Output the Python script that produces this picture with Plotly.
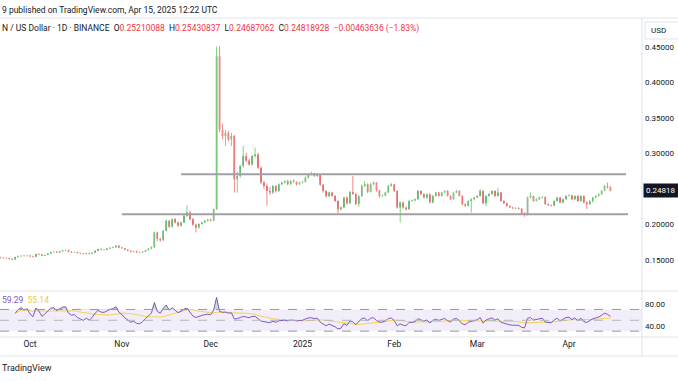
import pandas as pd
import plotly.graph_objects as go

# ---------------- data ----------------
start_date = "2024-09-21"
first_open = 0.1540

close = [
    # Sep 21-30
    0.1535, 0.1530, 0.1528, 0.1518, 0.1512, 0.1545, 0.1556, 0.1564, 0.1560, 0.1565,
    # Oct
    0.1556, 0.1550, 0.1588, 0.1580, 0.1564, 0.1575, 0.1595, 0.1615, 0.1620, 0.1610,
    0.1625, 0.1640, 0.1644, 0.1620, 0.1611, 0.1615, 0.1602, 0.1595, 0.1588, 0.1600,
    0.1590, 0.1605, 0.1634, 0.1658, 0.1650, 0.1649, 0.1665, 0.1675, 0.1682, 0.1704, 0.1680,
    # Nov
    0.1668, 0.1649, 0.1634, 0.1620, 0.1625, 0.1611, 0.1608, 0.1620, 0.1640, 0.1660,
    0.1682, 0.1891, 0.1800, 0.1780, 0.1914, 0.2054, 0.1970, 0.2077, 0.2031, 0.1984,
    0.2031, 0.2124, 0.2171, 0.2077, 0.2000, 0.1961, 0.2008, 0.2031, 0.2054, 0.2070,
    # Dec
    0.2060, 0.2217, 0.4365, 0.3338, 0.3245, 0.3291, 0.3198, 0.3245, 0.2638, 0.2684,
    0.2824, 0.2964, 0.2900, 0.2847, 0.2964, 0.2987, 0.2800, 0.2591, 0.2544, 0.2474,
    0.2451, 0.2544, 0.2474, 0.2568, 0.2591, 0.2614, 0.2568, 0.2614, 0.2600, 0.2568, 0.2591,
    # Jan
    0.2600, 0.2661, 0.2707, 0.2715, 0.2685, 0.2700, 0.2560, 0.2474, 0.2400, 0.2451,
    0.2404, 0.2334, 0.2218, 0.2241, 0.2381, 0.2300, 0.2460, 0.2430, 0.2290, 0.2400,
    0.2545, 0.2568, 0.2460, 0.2568, 0.2591, 0.2480, 0.2404, 0.2410, 0.2451, 0.2545, 0.2568,
    # Feb
    0.2474, 0.2241, 0.2311, 0.2241, 0.2218, 0.2334, 0.2340, 0.2358, 0.2474, 0.2428,
    0.2381, 0.2428, 0.2311, 0.2404, 0.2451, 0.2404, 0.2451, 0.2474, 0.2404, 0.2358,
    0.2451, 0.2474, 0.2404, 0.2288, 0.2264, 0.2334, 0.2358, 0.2381,
    # Mar
    0.2404, 0.2474, 0.2300, 0.2404, 0.2430, 0.2474, 0.2404, 0.2451, 0.2334, 0.2300,
    0.2264, 0.2241, 0.2230, 0.2235, 0.2225, 0.2160, 0.2140, 0.2381, 0.2404, 0.2334,
    0.2358, 0.2381, 0.2390, 0.2288, 0.2273, 0.2265, 0.2334, 0.2381, 0.2311, 0.2358, 0.2404,
    # Apr 1-15
    0.2410, 0.2358, 0.2404, 0.2334, 0.2404, 0.2311, 0.2288, 0.2334, 0.2381, 0.2404,
    0.2428, 0.2475, 0.2545, 0.25210088, 0.24818928,
]

high = [
    0.1550, 0.1545, 0.1542, 0.1535, 0.1528, 0.1552, 0.1565, 0.1570, 0.1572, 0.1575,
    0.1578, 0.1565, 0.1595, 0.1598, 0.1588, 0.1582, 0.1605, 0.1622, 0.1630, 0.1628,
    0.1632, 0.1648, 0.1652, 0.1650, 0.1628, 0.1622, 0.1620, 0.1610, 0.1600, 0.1606,
    0.1608, 0.1612, 0.1642, 0.1665, 0.1668, 0.1658, 0.1672, 0.1682, 0.1692, 0.1712, 0.1710,
    0.1688, 0.1672, 0.1655, 0.1640, 0.1632, 0.1635, 0.1620, 0.1626, 0.1646, 0.1672,
    0.1695, 0.1905, 0.1900, 0.1815, 0.1925, 0.2070, 0.2065, 0.2090, 0.2095, 0.2045,
    0.2040, 0.2140, 0.2274, 0.2200, 0.2095, 0.2015, 0.2020, 0.2042, 0.2065, 0.2080,
    0.2085, 0.2230, 0.4505, 0.4510, 0.3420, 0.3330, 0.3320, 0.3290, 0.3260, 0.2750,
    0.2840, 0.3105, 0.3010, 0.2930, 0.2980, 0.3081, 0.3010, 0.2820, 0.2620, 0.2580,
    0.2530, 0.2560, 0.2560, 0.2580, 0.2605, 0.2625, 0.2630, 0.2625, 0.2640, 0.2612, 0.2605,
    0.2612, 0.2680, 0.2720, 0.2745, 0.2725, 0.2715, 0.2712, 0.2575, 0.2485, 0.2465,
    0.2460, 0.2415, 0.2345, 0.2260, 0.2395, 0.2400, 0.2475, 0.2685, 0.2450, 0.2420,
    0.2560, 0.2610, 0.2580, 0.2585, 0.2605, 0.2600, 0.2490, 0.2425, 0.2465, 0.2560, 0.2585,
    0.2575, 0.2485, 0.2330, 0.2325, 0.2255, 0.2345, 0.2355, 0.2368, 0.2490, 0.2485,
    0.2440, 0.2440, 0.2440, 0.2420, 0.2462, 0.2460, 0.2462, 0.2485, 0.2485, 0.2415,
    0.2465, 0.2490, 0.2485, 0.2415, 0.2300, 0.2345, 0.2370, 0.2392,
    0.2415, 0.2500, 0.2485, 0.2415, 0.2445, 0.2485, 0.2485, 0.2521, 0.2460, 0.2345,
    0.2312, 0.2275, 0.2252, 0.2245, 0.2245, 0.2235, 0.2175, 0.2395, 0.2451, 0.2412,
    0.2370, 0.2392, 0.2400, 0.2398, 0.2300, 0.2285, 0.2345, 0.2392, 0.2390, 0.2368, 0.2415,
    0.2425, 0.2420, 0.2415, 0.2415, 0.2412, 0.2412, 0.2330, 0.2345, 0.2392, 0.2415,
    0.2440, 0.2485, 0.2560, 0.2591, 0.25430837,
]

low = [
    0.1525, 0.1522, 0.1520, 0.1508, 0.1500, 0.1508, 0.1538, 0.1550, 0.1552, 0.1550,
    0.1545, 0.1540, 0.1545, 0.1572, 0.1558, 0.1558, 0.1570, 0.1590, 0.1608, 0.1600,
    0.1605, 0.1620, 0.1632, 0.1612, 0.1600, 0.1605, 0.1595, 0.1588, 0.1580, 0.1582,
    0.1582, 0.1585, 0.1600, 0.1628, 0.1640, 0.1642, 0.1645, 0.1658, 0.1668, 0.1678, 0.1670,
    0.1660, 0.1640, 0.1625, 0.1610, 0.1612, 0.1600, 0.1600, 0.1602, 0.1615, 0.1635,
    0.1652, 0.1675, 0.1770, 0.1760, 0.1772, 0.1905, 0.1955, 0.1962, 0.2015, 0.1970,
    0.1975, 0.2020, 0.2110, 0.2060, 0.1985, 0.1890, 0.1945, 0.1998, 0.2020, 0.2045,
    0.2045, 0.2050, 0.2210, 0.3300, 0.3200, 0.3105, 0.3170, 0.3105, 0.2451, 0.2451,
    0.2660, 0.2800, 0.2880, 0.2830, 0.2830, 0.2940, 0.2780, 0.2570, 0.2500, 0.2264,
    0.2420, 0.2430, 0.2450, 0.2460, 0.2555, 0.2575, 0.2555, 0.2560, 0.2590, 0.2550, 0.2560,
    0.2580, 0.2595, 0.2650, 0.2690, 0.2670, 0.2670, 0.2545, 0.2450, 0.2380, 0.2390,
    0.2395, 0.2320, 0.2160, 0.2200, 0.2230, 0.2280, 0.2290, 0.2420, 0.2270, 0.2250,
    0.2390, 0.2530, 0.2445, 0.2450, 0.2555, 0.2465, 0.2380, 0.2390, 0.2400, 0.2445, 0.2535,
    0.2460, 0.2225, 0.2031, 0.2225, 0.2200, 0.2210, 0.2320, 0.2330, 0.2350, 0.2415,
    0.2370, 0.2360, 0.2300, 0.2300, 0.2395, 0.2395, 0.2395, 0.2440, 0.2395, 0.2345,
    0.2350, 0.2440, 0.2395, 0.2275, 0.2250, 0.2255, 0.2171, 0.2340,
    0.2370, 0.2395, 0.2285, 0.2260, 0.2395, 0.2420, 0.2390, 0.2395, 0.2320, 0.2285,
    0.2250, 0.2230, 0.2220, 0.2220, 0.2215, 0.2145, 0.2110, 0.2130, 0.2370, 0.2320,
    0.2325, 0.2350, 0.2372, 0.2278, 0.2262, 0.2255, 0.2258, 0.2325, 0.2300, 0.2302, 0.2350,
    0.2395, 0.2345, 0.2350, 0.2322, 0.2325, 0.2300, 0.2218, 0.2275, 0.2310, 0.2370,
    0.2395, 0.2420, 0.2468, 0.2505, 0.24687062,
]

month_ticks = ["2024-10-01", "2024-11-01", "2024-12-01", "2025-01-01",
               "2025-02-01", "2025-03-01", "2025-04-01"]
month_labels = ["Oct", "Nov", "Dec", "2025", "Feb", "Mar", "Apr"]
price_ticks = [0.15, 0.20, 0.30, 0.35, 0.40, 0.45]
rsi_ticks = [40, 80]
rsi_bands = [70, 50, 30]
levels = [0.2710, 0.2148]
level_from = ["2024-11-21", "2024-11-01"]
level_to = ["2025-04-20 06:00", "2025-04-20 22:00"]
rsi_last_text = ["59.29", "55.14"]
header_line1 = "9 published on TradingView.com, Apr 15, 2025 12:22 UTC"
symbol_text = "N / US Dollar · 1D · BINANCE"
ohlc_text = ["0.25210088", "0.25430837", "0.24687062", "0.24818928"]
change_text = "−0.00463636 (−1.83%)"
last_price_text = "0.24818"

# ---------------- derived ----------------
dates = pd.date_range(start_date, periods=len(close), freq="D")
opens = [first_open] + close[:-1]
body_hi = [max(o, c) for o, c in zip(opens, close)]
body_lo = [min(o, c) for o, c in zip(opens, close)]

s = pd.Series(close, dtype=float)
d = s.diff()
up = d.clip(lower=0)
dn = (-d).clip(lower=0)
au = up.ewm(alpha=1 / 14, adjust=True, min_periods=5).mean()
ad = dn.ewm(alpha=1 / 14, adjust=True, min_periods=5).mean()
rsi = 100 - 100 / (1 + au / ad)
rsi_ma = rsi.rolling(14, min_periods=1).mean()
rsi_ob = rsi.clip(lower=70)

GREEN_BODY, GREEN_WICK = "#2E7D32", "#7FD37F"
RED_BODY, RED_WICK = "#C62828", "#F08A8A"
FONT = "Roboto"
TXT = "#131722"
SEP = "#E0E3EB"

wx_up, wy_up, wx_dn, wy_dn = [], [], [], []
for dt, o, h, l, c in zip(dates, opens, high, low, close):
    if c >= o:
        wx_up += [dt, dt, None]
        wy_up += [l, h, None]
    else:
        wx_dn += [dt, dt, None]
        wy_dn += [l, h, None]

fig = go.Figure()
fig.add_trace(go.Scatter(x=wx_up, y=wy_up, mode="lines", line=dict(color=GREEN_WICK, width=1),
                         hoverinfo="skip", showlegend=False))
fig.add_trace(go.Scatter(x=wx_dn, y=wy_dn, mode="lines", line=dict(color=RED_WICK, width=1),
                         hoverinfo="skip", showlegend=False))
fig.add_trace(go.Candlestick(
    x=dates, open=opens, high=body_hi, low=body_lo, close=close,
    increasing=dict(line=dict(color=GREEN_BODY, width=0), fillcolor=GREEN_BODY),
    decreasing=dict(line=dict(color=RED_BODY, width=0), fillcolor=RED_BODY),
    whiskerwidth=0, showlegend=False, hoverinfo="skip"))

for lv, a, b in zip(levels, level_from, level_to):
    fig.add_trace(go.Scatter(x=[a, b], y=[lv, lv], mode="lines",
                             line=dict(color="#A0A0A6", width=2),
                             hoverinfo="skip", showlegend=False))

# RSI pane
fig.add_trace(go.Scatter(x=dates, y=[70] * len(dates), yaxis="y2", mode="lines",
                         line=dict(width=0), hoverinfo="skip", showlegend=False))
fig.add_trace(go.Scatter(x=dates, y=rsi_ob, yaxis="y2", mode="lines", fill="tonexty",
                         fillcolor="rgba(76,175,80,0.35)", line=dict(width=0),
                         hoverinfo="skip", showlegend=False))
fig.add_trace(go.Scatter(x=dates, y=rsi_ma, yaxis="y2", mode="lines",
                         line=dict(color="#F7D44C", width=1),
                         hoverinfo="skip", showlegend=False))
fig.add_trace(go.Scatter(x=dates, y=rsi, yaxis="y2", mode="lines",
                         line=dict(color="#7E57C2", width=1),
                         hoverinfo="skip", showlegend=False))

shapes = []
shapes.append(dict(type="rect", xref="x domain", yref="y2", x0=0, x1=1,
                   y0=rsi_bands[2], y1=rsi_bands[0], fillcolor="rgba(126,87,194,0.1)",
                   line=dict(width=0), layer="below"))
for b in rsi_bands:
    shapes.append(dict(type="line", xref="x domain", yref="y2", x0=0, x1=1, y0=b, y1=b,
                       line=dict(color="#9598A1" if b != 50 else "#B2B5BE", width=1, dash="dash")))

PH = 319.0  # plot height (t=18,b=44)


def yp(px):
    return 1 - (px - 18) / PH


XR = 678 / 642.0
for ypx in [18, 291, 337, 356]:
    shapes.append(dict(type="line", xref="paper", yref="paper", x0=0, x1=XR,
                       y0=yp(ypx), y1=yp(ypx), line=dict(color=SEP, width=1)))
shapes.append(dict(type="line", xref="paper", yref="paper", x0=1, x1=1,
                   y0=yp(18), y1=yp(356), line=dict(color=SEP, width=1)))
shapes.append(dict(type="rect", xref="paper", yref="paper", x0=645 / 642, x1=680 / 642,
                   y0=yp(39), y1=yp(22), line=dict(color=SEP, width=1),
                   fillcolor="white"))

RED = "#F23645"
sp = "\u00a0\u00a0"
line2 = (f"{symbol_text}{sp}"
         f"O<span style='color:{RED}'>{ohlc_text[0]}</span>{sp}"
         f"H<span style='color:{RED}'>{ohlc_text[1]}</span>{sp}"
         f"L<span style='color:{RED}'>{ohlc_text[2]}</span>{sp}"
         f"C<span style='color:{RED}'>{ohlc_text[3]}</span>{sp}"
         f"<span style='color:{RED}'>{change_text}</span>")

ann = [
    dict(text=header_line1, xref="paper", yref="paper", x=0, y=yp(10), xanchor="left",
         yanchor="middle", showarrow=False, font=dict(size=8.5, color=TXT, family=FONT)),
    dict(text=line2, xref="paper", yref="paper", x=0, y=yp(29), xanchor="left",
         yanchor="middle", showarrow=False, font=dict(size=8.5, color=TXT, family=FONT)),
    dict(text="TradingView", xref="paper", yref="paper", x=0, y=yp(368),
         xanchor="left", yanchor="middle", showarrow=False,
         font=dict(size=9, color=TXT, family=FONT)),
    dict(text="USD", xref="paper", yref="paper", x=658 / 642, y=yp(31), xanchor="center",
         yanchor="middle", showarrow=False, font=dict(size=8, color=TXT, family=FONT)),
    dict(text=f"<span style='color:#7E57C2'>{rsi_last_text[0]}</span>\u00a0\u00a0"
              f"<span style='color:#F2C94C'>{rsi_last_text[1]}</span>",
         xref="paper", yref="paper", x=0, y=yp(300), xanchor="left", yanchor="middle",
         showarrow=False, font=dict(size=8.5, family=FONT)),
    dict(text=last_price_text, xref="paper", yref="y", x=643 / 642, y=close[-1],
         xanchor="left", yanchor="middle", showarrow=False, bgcolor="#131722",
         font=dict(size=8, color="white", family=FONT), borderpad=2, width=32, align="left"),
]

fig.update_layout(
    width=678, height=381,
    margin=dict(l=0, r=36, t=18, b=44),
    paper_bgcolor="white", plot_bgcolor="white",
    showlegend=False, boxgap=0.3,
    font=dict(family=FONT, size=8.5, color=TXT),
    xaxis=dict(type="date", range=["2024-09-20 20:53", "2025-04-25 15:36"],
               rangeslider=dict(visible=False), showgrid=False, zeroline=False,
               showline=False, anchor="y2", tickvals=month_ticks, ticktext=month_labels,
               ticks="", tickfont=dict(size=8.5, color=TXT, family=FONT)),
    yaxis=dict(domain=[yp(291), 1], range=[0.1068, 0.4904], side="right", showgrid=False,
               zeroline=False, showline=False, tickvals=price_ticks, tickformat=".5f",
               ticks="", ticklabelstandoff=2, tickfont=dict(size=8, color=TXT, family=FONT)),
    yaxis2=dict(domain=[0, yp(291)], range=[19.2, 104], side="right", showgrid=False,
                zeroline=False, showline=False, tickvals=rsi_ticks, tickformat=".2f",
                ticks="", ticklabelstandoff=2, tickfont=dict(size=8, color=TXT, family=FONT)),
    shapes=shapes,
    annotations=ann,
)

fig.write_html("out.html", config={"displayModeBar": False},
               post_script="document.body.style.margin='0';document.body.style.overflow='hidden';")
